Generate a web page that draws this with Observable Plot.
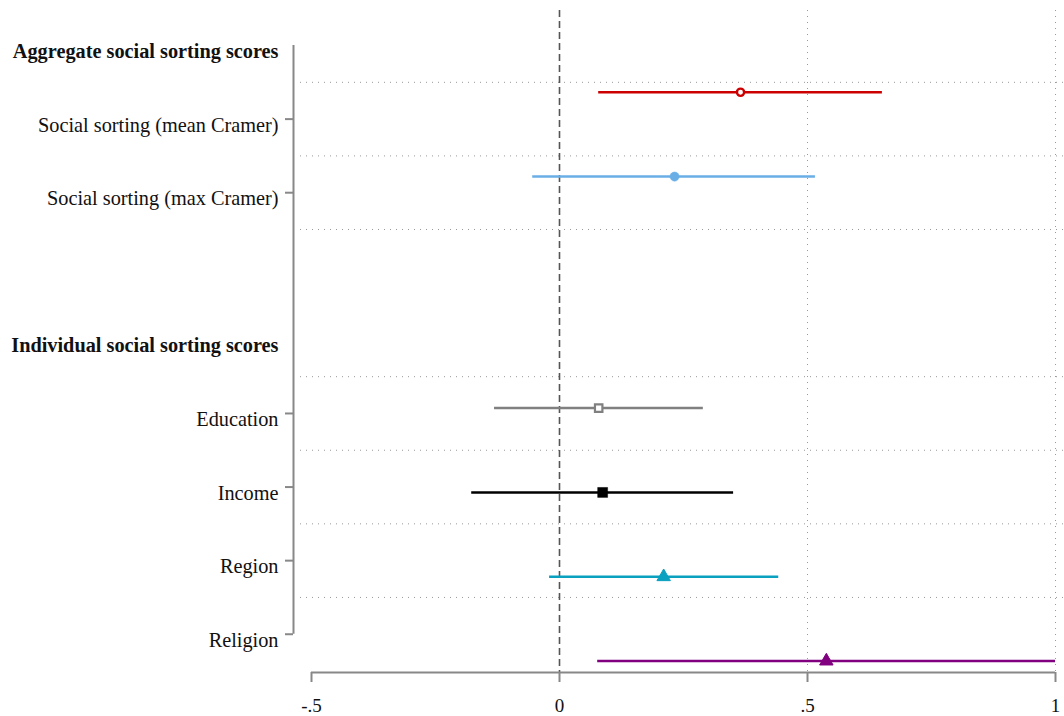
<!DOCTYPE html>
<html>
<head>
<meta charset="utf-8">
<script src="https://cdn.jsdelivr.net/npm/d3@7"></script>
<script src="https://cdn.jsdelivr.net/npm/@observablehq/plot@0.6"></script>
<style>
  html, body { margin: 0; padding: 0; background: #fff; }
  #chart svg { display: block; }
</style>
</head>
<body>
<div id="chart"></div>
<script>
// ---- data ----
const groups = ["Aggregate social sorting scores", "Individual social sorting scores"];
const groupMembers = [2, 4];
const labels = ["Social sorting (mean Cramer)", "Social sorting (max Cramer)", "Education", "Income", "Region", "Religion"];
const estimates = [0.365, 0.232, 0.079, 0.087, 0.210, 0.538];
const lower = [0.079, -0.054, -0.131, -0.177, -0.020, 0.077];
const upper = [0.651, 0.516, 0.290, 0.351, 0.442, 1.0];
const colors = ["#cc0000", "#6aaee6", "#808080", "#000000", "#0aa0c0", "#800080"];
const symbols = ["circle", "circle", "square", "square", "triangle", "triangle"];
const filled = [false, true, false, true, true, true];
const xTicks = [-0.5, 0, 0.5, 1];
const xTickLabels = ["-.5", "0", ".5", "1"];

// ---- layout of rows (slots) ----
const headerRows = [];
const rows = [];
const grid = [];
let s = 0, k = 0;
groups.forEach((g, gi) => {
  headerRows.push({label: g, slot: s});
  grid.push(s + 0.5);
  s++;
  for (let m = 0; m < groupMembers[gi]; m++, k++) {
    rows.push({label: labels[k], slot: s, i: k});
    s++;
  }
  s++;
});
const lastSlot = rows[rows.length - 1].slot;
rows.forEach(r => { if (r.slot !== lastSlot) grid.push(r.slot + 0.5); });
const n = labels.length;
const data = rows.map(r => ({
  label: r.label,
  pos: r.slot + (r.i - (n - 1) / 2) * 0.146,
  est: estimates[r.i],
  lo: lower[r.i],
  hi: upper[r.i],
  color: colors[r.i],
  symbol: symbols[r.i],
  filled: filled[r.i]
}));
const ticksX = xTicks.map((v, i) => ({v, t: xTickLabels[i]}));

const font = "Liberation Serif";
const W = 1064, H = 716;
const mL = 311, mR = 9, mT = 10, mB = 44;
const yTop = -0.476, yBot = lastSlot + 0.52;
const pxPerX = (W - mL - mR) / 1.5;
const pxPerSlot = (H - mT - mB) / (yBot - yTop);
const xLeftGrid = -0.5 - 11 / pxPerX;
const xRightGrid = 1 + mR / pxPerX;

const circles = data.filter(d => d.symbol === "circle");
const squares = data.filter(d => d.symbol === "square");
const triangles = data.filter(d => d.symbol === "triangle");

const chart = Plot.plot({
  width: W,
  height: H,
  marginLeft: mL,
  marginRight: mR,
  marginTop: mT,
  marginBottom: mB,
  style: {fontFamily: font, background: "#fff", overflow: "visible"},
  x: {type: "linear", domain: [-0.5, 1], axis: null},
  y: {type: "linear", domain: [yBot, yTop], axis: null},
  marks: [
    // horizontal dotted gridlines
    Plot.ruleY(grid, {x1: xLeftGrid, x2: xRightGrid, stroke: "#999", strokeWidth: 1, strokeDasharray: "1,5"}),
    // vertical dotted gridlines
    Plot.ruleX([0.5, 1], {y1: yTop, y2: yBot, stroke: "#999", strokeWidth: 1, strokeDasharray: "1,5"}),
    // dashed zero line
    Plot.ruleX([0], {y1: yTop, y2: yBot, stroke: "#555", strokeWidth: 1.6, strokeDasharray: "7,4"}),
    // confidence intervals
    Plot.ruleY(data, {y: "pos", x1: "lo", x2: "hi", stroke: "color", strokeWidth: 2.5}),
    // point estimates
    Plot.dot(circles.filter(d => !d.filled), {x: "est", y: "pos", symbol: "circle", r: 3.6, stroke: "color", strokeWidth: 2.4, fill: "#fff"}),
    Plot.dot(circles.filter(d => d.filled), {x: "est", y: "pos", symbol: "circle", r: 4.6, stroke: "color", strokeWidth: 0.5, fill: "color"}),
    Plot.dot(squares.filter(d => !d.filled), {x: "est", y: "pos", symbol: "square", r: 4.2, stroke: "color", strokeWidth: 2.2, fill: "#fff"}),
    Plot.dot(squares.filter(d => d.filled), {x: "est", y: "pos", symbol: "square", r: 5.6, stroke: "color", strokeWidth: 0.5, fill: "color"}),
    Plot.dot(triangles, {x: "est", y: "pos", symbol: "triangle", r: 5, stroke: "color", strokeWidth: 1, fill: "color"}),
    // x axis line and ticks
    Plot.ruleY([yBot], {x1: -0.5, x2: 1, stroke: "#888", strokeWidth: 2}),
    Plot.ruleX(ticksX, {x: "v", y1: yBot, y2: yBot + 10 / pxPerSlot, stroke: "#888", strokeWidth: 2}),
    Plot.text(ticksX, {x: "v", y: yBot, text: "t", dy: 33, fontSize: 19, fill: "#111", fontFamily: font}),
    // y axis line and ticks (offset left of the frame)
    Plot.ruleX([-0.5 - 18 / pxPerX], {y1: 0, y2: lastSlot, stroke: "#888", strokeWidth: 2}),
    Plot.ruleY(rows, {y: "slot", x1: -0.5 - 26 / pxPerX, x2: -0.5 - 18 / pxPerX, stroke: "#888", strokeWidth: 2}),
    // row labels
    Plot.text(rows, {x: -0.5, y: "slot", text: "label", textAnchor: "end", dx: -33, dy: 6, fontSize: 20.3, fill: "#111", fontFamily: font}),
    // group headers
    Plot.text(headerRows, {x: -0.5, y: "slot", text: "label", textAnchor: "end", dx: -33, dy: 6, fontSize: 20.3, fontWeight: "bold", fill: "#111", fontFamily: font})
  ]
});
document.getElementById("chart").appendChild(chart);
</script>
</body>
</html>
